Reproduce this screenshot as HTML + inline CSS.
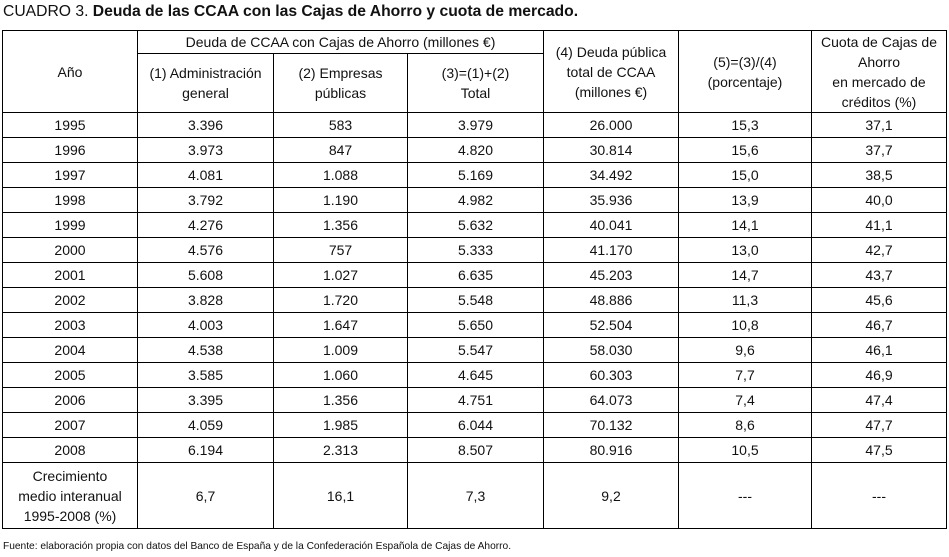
<!DOCTYPE html>
<html><head><meta charset="utf-8"><style>
body{margin:0;width:949px;height:557px;background:#fff;font-family:"Liberation Sans",sans-serif;color:#111;position:relative;overflow:hidden}
#title{position:absolute;left:3px;top:3px;font-size:15.7px;white-space:nowrap}
#title b{font-weight:bold}
table{position:absolute;left:2px;top:30px;border-collapse:collapse;table-layout:fixed;font-size:14px}
td{border:1px solid #000;text-align:center;padding:0;line-height:20px}
tr.d td{height:24px;line-height:24px}
#foot{position:absolute;left:3px;top:541px;font-size:10.2px;white-space:nowrap}
</style></head><body>
<div id="title">CUADRO 3. <b>Deuda de las CCAA con las Cajas de Ahorro y cuota de mercado.</b></div>
<table>
<colgroup><col style="width:135px"><col style="width:136px"><col style="width:134px"><col style="width:136px"><col style="width:135px"><col style="width:133px"><col style="width:135px"></colgroup>
<tr style="height:23px"><td rowspan="2">Año</td><td colspan="3">Deuda de CCAA con Cajas de Ahorro (millones €)</td><td rowspan="2">(4) Deuda pública<br>total de CCAA<br>(millones €)</td><td rowspan="2">(5)=(3)/(4)<br>(porcentaje)</td><td rowspan="2">Cuota de Cajas de<br>Ahorro<br>en mercado de<br>créditos (%)</td></tr>
<tr style="height:59px"><td>(1) Administración<br>general</td><td>(2) Empresas<br>públicas</td><td>(3)=(1)+(2)<br>Total</td></tr>
<tbody id="body"></tbody>
<tr style="height:66px"><td>Crecimiento<br>medio interanual<br>1995-2008 (%)</td><td>6,7</td><td>16,1</td><td>7,3</td><td>9,2</td><td>---</td><td>---</td></tr>
</table>
<div id="foot">Fuente: elaboración propia con datos del Banco de España y de la Confederación Española de Cajas de Ahorro.</div>
<script>
const years=["1995","1996","1997","1998","1999","2000","2001","2002","2003","2004","2005","2006","2007","2008"];
const admin=["3.396","3.973","4.081","3.792","4.276","4.576","5.608","3.828","4.003","4.538","3.585","3.395","4.059","6.194"];
const empresas=["583","847","1.088","1.190","1.356","757","1.027","1.720","1.647","1.009","1.060","1.356","1.985","2.313"];
const total=["3.979","4.820","5.169","4.982","5.632","5.333","6.635","5.548","5.650","5.547","4.645","4.751","6.044","8.507"];
const deuda=["26.000","30.814","34.492","35.936","40.041","41.170","45.203","48.886","52.504","58.030","60.303","64.073","70.132","80.916"];
const pct=["15,3","15,6","15,0","13,9","14,1","13,0","14,7","11,3","10,8","9,6","7,7","7,4","8,6","10,5"];
const cuota=["37,1","37,7","38,5","40,0","41,1","42,7","43,7","45,6","46,7","46,1","46,9","47,4","47,7","47,5"];
const tb=document.getElementById('body');
years.forEach((y,i)=>{
  const tr=document.createElement('tr');tr.className='d';
  
  
  [y,admin[i],empresas[i],total[i],deuda[i],pct[i],cuota[i]].forEach(v=>{
    const td=document.createElement('td');td.textContent=v;
    
    
    tr.appendChild(td);
  });
  tb.appendChild(tr);
});
</script>
</body></html>
